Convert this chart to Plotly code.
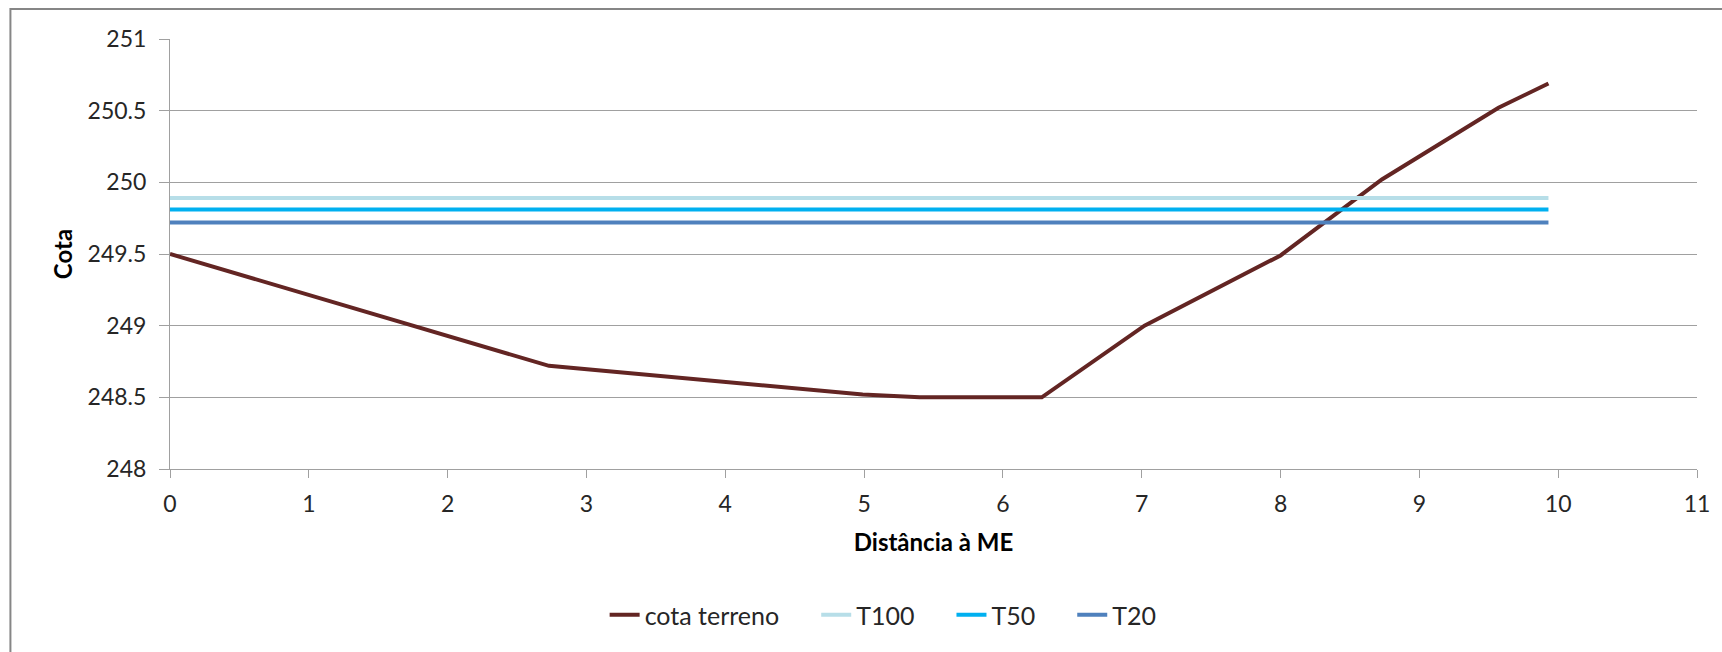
import plotly.graph_objects as go

# Data
dist_terreno = [0, 2.73, 4.99, 5.4, 6.28, 7.02, 8.0, 8.73, 9.57, 9.93]
cota_terreno = [249.5, 248.72, 248.52, 248.5, 248.5, 249.0, 249.49, 250.02, 250.52, 250.69]

dist_nivel = [0, 9.93]
cota_t100 = [249.89, 249.89]
cota_t50 = [249.81, 249.81]
cota_t20 = [249.72, 249.72]

x_ticks = list(range(0, 12))
y_ticks = [248, 248.5, 249, 249.5, 250, 250.5, 251]

FONT = "Lato"
TXT = "#262626"
PAD = "\u00a0" * 5

fig = go.Figure()
fig.add_trace(go.Scatter(x=dist_terreno, y=cota_terreno, mode="lines", name="cota terreno" + PAD,
                         line=dict(color="#632523", width=4)))
fig.add_trace(go.Scatter(x=dist_nivel, y=cota_t100, mode="lines", name="T100" + PAD,
                         line=dict(color="#B7DEE8", width=4)))
fig.add_trace(go.Scatter(x=dist_nivel, y=cota_t50, mode="lines", name="T50" + PAD,
                         line=dict(color="#00B0F0", width=4)))
fig.add_trace(go.Scatter(x=dist_nivel, y=cota_t20, mode="lines", name="T20",
                         line=dict(color="#4F81BD", width=4)))

L, R, T, B = 170, 21, 39, 183
W, H = 1722, 652
pw, ph = W - L - R, H - T - B

fig.update_layout(
    width=W, height=H, autosize=False,
    margin=dict(l=L, r=R, t=T, b=B, pad=0),
    paper_bgcolor="white", plot_bgcolor="white",
    font=dict(family=FONT, size=23, color=TXT),
    showlegend=True,
    legend=dict(orientation="h", xanchor="center", yanchor="middle",
                x=(885 - L) / pw, y=(H - B - 615) / ph,
                font=dict(size=25, family=FONT, color=TXT),
                tracegroupgap=0),
    xaxis=dict(range=[0, 11], tickvals=x_ticks, showgrid=False, zeroline=False,
               showline=True, linecolor="#A0A0A0", linewidth=1,
               ticks="outside", ticklen=8, tickcolor="#A0A0A0", tickwidth=1,
               ticklabelstandoff=6,
               tickfont=dict(size=23, family=FONT, color=TXT),
               title=dict(text="<b>Distância à ME</b>", font=dict(size=24, family=FONT, color="#000"),
                          standoff=18)),
    yaxis=dict(range=[248, 251], tickvals=y_ticks, showgrid=True, gridcolor="#A0A0A0", gridwidth=1,
               zeroline=False, showline=True, linecolor="#A0A0A0", linewidth=1,
               ticks="outside", ticklen=10, tickcolor="#A0A0A0", tickwidth=1,
               ticklabelstandoff=8,
               tickfont=dict(size=23, family=FONT, color=TXT),
               title=dict(text="<b>Cota</b>", font=dict(size=24, family=FONT, color="#000"),
                          standoff=8)),
    shapes=[dict(type="rect", xref="paper", yref="paper",
                 x0=(10 - L) / pw, x1=(W + 20 - L) / pw,
                 y0=(H - B - (H + 20)) / ph, y1=(H - B - 9) / ph,
                 line=dict(color="#868686", width=2), fillcolor="rgba(0,0,0,0)", layer="below")],
)

fig.write_html("out.html", config={"displayModeBar": False},
               post_script="document.body.style.margin='0';document.body.style.overflow='hidden';")
